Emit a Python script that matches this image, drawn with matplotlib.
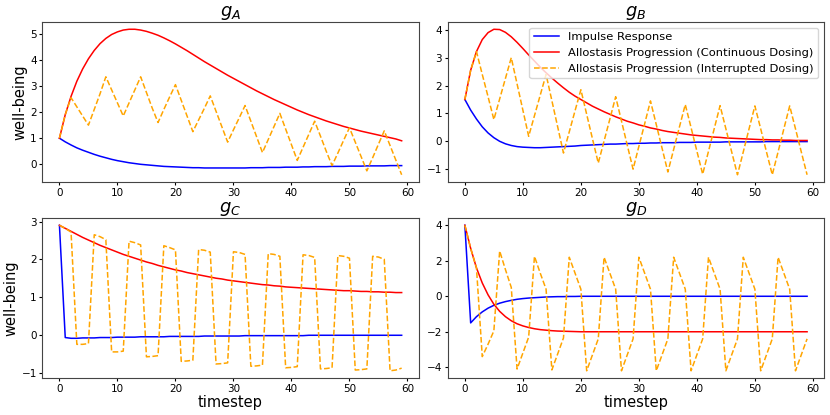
import numpy as np
import matplotlib
matplotlib.use("Agg")
import matplotlib.pyplot as plt

t = np.arange(60)

# g_A
impulse_a = [1.00, 0.86, 0.74, 0.63, 0.54, 0.46, 0.38, 0.31, 0.25, 0.19,
             0.14, 0.10, 0.06, 0.03, 0.00, -0.02, -0.04, -0.06, -0.08, -0.09,
             -0.10, -0.11, -0.12, -0.13, -0.13, -0.14, -0.14, -0.14, -0.14, -0.14,
             -0.14, -0.14, -0.14, -0.13, -0.13, -0.13, -0.12, -0.12, -0.12, -0.11,
             -0.11, -0.11, -0.10, -0.10, -0.09, -0.09, -0.09, -0.08, -0.08, -0.08,
             -0.07, -0.07, -0.07, -0.06, -0.06, -0.06, -0.06, -0.05, -0.05, -0.05]
cont_a = [1.00, 1.90, 2.60, 3.18, 3.65, 4.04, 4.36, 4.62, 4.82, 4.97,
          5.07, 5.14, 5.17, 5.17, 5.14, 5.09, 5.02, 4.94, 4.84, 4.73,
          4.61, 4.48, 4.35, 4.21, 4.07, 3.93, 3.80, 3.67, 3.54, 3.41,
          3.29, 3.17, 3.05, 2.93, 2.81, 2.70, 2.59, 2.48, 2.38, 2.28,
          2.18, 2.08, 1.99, 1.90, 1.82, 1.74, 1.66, 1.59, 1.52, 1.45,
          1.39, 1.33, 1.27, 1.22, 1.17, 1.12, 1.07, 1.02, 0.97, 0.90]
inter_a = [1.00, 1.90, 2.55, 2.20, 1.85, 1.50, 2.10, 2.70, 3.35, 2.85,
           2.35, 1.85, 2.35, 2.85, 3.35, 2.75, 2.15, 1.60, 2.10, 2.58,
           3.05, 2.45, 1.85, 1.25, 1.70, 2.15, 2.62, 2.03, 1.44, 0.85,
           1.32, 1.78, 2.25, 1.65, 1.05, 0.45, 0.95, 1.45, 1.95, 1.35,
           0.75, 0.15, 0.65, 1.15, 1.65, 1.08, 0.50, -0.05, 0.43, 0.92,
           1.40, 0.85, 0.30, -0.25, 0.25, 0.77, 1.28, 0.72, 0.16, -0.40]

# g_B
impulse_b = [1.50, 1.12, 0.80, 0.52, 0.30, 0.13, 0.00, -0.09, -0.15, -0.19,
             -0.21, -0.22, -0.23, -0.23, -0.22, -0.21, -0.20, -0.19, -0.18, -0.17,
             -0.15, -0.14, -0.13, -0.12, -0.11, -0.10, -0.10, -0.09, -0.08, -0.08,
             -0.07, -0.07, -0.06, -0.06, -0.05, -0.05, -0.05, -0.04, -0.04, -0.04,
             -0.03, -0.03, -0.03, -0.03, -0.03, -0.02, -0.02, -0.02, -0.02, -0.02,
             -0.02, -0.02, -0.01, -0.01, -0.01, -0.01, -0.01, -0.01, -0.01, -0.01]
cont_b = [1.50, 2.55, 3.22, 3.65, 3.90, 4.02, 4.01, 3.91, 3.75, 3.55,
          3.33, 3.10, 2.88, 2.66, 2.46, 2.27, 2.09, 1.92, 1.76, 1.62,
          1.50, 1.38, 1.26, 1.16, 1.06, 0.97, 0.88, 0.80, 0.72, 0.66,
          0.59, 0.54, 0.48, 0.44, 0.39, 0.35, 0.32, 0.29, 0.26, 0.23,
          0.21, 0.19, 0.17, 0.15, 0.14, 0.12, 0.11, 0.10, 0.09, 0.08,
          0.07, 0.06, 0.06, 0.05, 0.05, 0.04, 0.04, 0.03, 0.03, 0.03]
inter_b = [1.50, 2.55, 3.22, 2.40, 1.60, 0.78, 1.52, 2.26, 3.00, 2.06,
           1.12, 0.18, 0.92, 1.66, 2.40, 1.46, 0.52, -0.42, 0.34, 1.10,
           1.85, 0.97, 0.09, -0.78, 0.01, 0.80, 1.60, 0.73, -0.14, -1.00,
           -0.18, 0.63, 1.45, 0.60, -0.25, -1.10, -0.29, 0.52, 1.32, 0.49,
           -0.35, -1.18, -0.36, 0.46, 1.28, 0.45, -0.38, -1.20, -0.38, 0.45,
           1.27, 0.45, -0.38, -1.20, -0.38, 0.45, 1.27, 0.45, -0.38, -1.20]

# g_C
impulse_c = [2.90, -0.07, -0.09, -0.09, -0.08, -0.08, -0.08, -0.07, -0.07, -0.07,
             -0.06, -0.06, -0.06, -0.06, -0.05, -0.05, -0.05, -0.05, -0.05, -0.04,
             -0.04, -0.04, -0.04, -0.04, -0.04, -0.03, -0.03, -0.03, -0.03, -0.03,
             -0.03, -0.03, -0.02, -0.02, -0.02, -0.02, -0.02, -0.02, -0.02, -0.02,
             -0.02, -0.02, -0.02, -0.01, -0.01, -0.01, -0.01, -0.01, -0.01, -0.01,
             -0.01, -0.01, -0.01, -0.01, -0.01, -0.01, -0.01, -0.01, -0.01, -0.01]
cont_c = [2.90, 2.82, 2.74, 2.66, 2.58, 2.51, 2.44, 2.37, 2.31, 2.25,
          2.19, 2.13, 2.08, 2.03, 1.98, 1.93, 1.89, 1.84, 1.80, 1.76,
          1.72, 1.69, 1.65, 1.62, 1.59, 1.56, 1.53, 1.50, 1.48, 1.45,
          1.43, 1.41, 1.39, 1.37, 1.35, 1.33, 1.32, 1.30, 1.29, 1.27,
          1.26, 1.25, 1.24, 1.23, 1.22, 1.21, 1.20, 1.19, 1.18, 1.17,
          1.17, 1.16, 1.15, 1.15, 1.14, 1.14, 1.13, 1.13, 1.12, 1.12]
inter_c = [2.90, 2.82, 2.72, -0.25, -0.25, -0.23, 2.65, 2.60, 2.52, -0.45,
           -0.45, -0.43, 2.48, 2.44, 2.38, -0.58, -0.57, -0.55, 2.36, 2.31,
           2.25, -0.70, -0.69, -0.67, 2.26, 2.24, 2.19, -0.77, -0.76, -0.74,
           2.20, 2.18, 2.13, -0.83, -0.82, -0.80, 2.15, 2.13, 2.08, -0.87,
           -0.86, -0.84, 2.12, 2.10, 2.05, -0.90, -0.89, -0.87, 2.10, 2.08,
           2.03, -0.93, -0.92, -0.90, 2.08, 2.06, 2.00, -0.95, -0.93, -0.88]

# g_D
impulse_d = [4.00, -1.50, -1.15, -0.88, -0.67, -0.51, -0.39, -0.30, -0.23, -0.17,
             -0.13, -0.10, -0.08, -0.06, -0.04, -0.03, -0.02, -0.02, -0.01, -0.01,
             0.00, 0.00, 0.00, 0.00, 0.00, 0.00, 0.00, 0.00, 0.00, 0.00,
             0.00, 0.00, 0.00, 0.00, 0.00, 0.00, 0.00, 0.00, 0.00, 0.00,
             0.00, 0.00, 0.00, 0.00, 0.00, 0.00, 0.00, 0.00, 0.00, 0.00,
             0.00, 0.00, 0.00, 0.00, 0.00, 0.00, 0.00, 0.00, 0.00, 0.00]
cont_d = [4.00, 2.70, 1.60, 0.75, 0.08, -0.45, -0.85, -1.15, -1.38, -1.55,
          -1.67, -1.76, -1.83, -1.88, -1.91, -1.94, -1.96, -1.97, -1.98, -1.99,
          -2.00, -2.00, -2.00, -2.00, -2.00, -2.00, -2.00, -2.00, -2.00, -2.00,
          -2.00, -2.00, -2.00, -2.00, -2.00, -2.00, -2.00, -2.00, -2.00, -2.00,
          -2.00, -2.00, -2.00, -2.00, -2.00, -2.00, -2.00, -2.00, -2.00, -2.00,
          -2.00, -2.00, -2.00, -2.00, -2.00, -2.00, -2.00, -2.00, -2.00, -2.00]
inter_d = [4.00, 2.70, 1.60, -3.40, -2.70, -1.95, 2.55, 1.50, 0.50, -4.10,
           -3.20, -2.30, 2.25, 1.30, 0.40, -4.15, -3.25, -2.35, 2.20, 1.30,
           0.40, -4.20, -3.30, -2.40, 2.20, 1.30, 0.40, -4.20, -3.30, -2.40,
           2.20, 1.30, 0.40, -4.20, -3.30, -2.40, 2.20, 1.30, 0.40, -4.20,
           -3.30, -2.40, 2.20, 1.30, 0.40, -4.20, -3.30, -2.40, 2.20, 1.30,
           0.40, -4.20, -3.30, -2.40, 2.20, 1.30, 0.40, -4.20, -3.30, -2.40]

titles = ["$g_A$", "$g_B$", "$g_C$", "$g_D$"]
impulse = [impulse_a, impulse_b, impulse_c, impulse_d]
cont = [cont_a, cont_b, cont_c, cont_d]
inter = [inter_a, inter_b, inter_c, inter_d]

fig, axes = plt.subplots(2, 2, figsize=(8.3, 4.15), dpi=100)
fig.subplots_adjust(left=0.051, right=0.993, top=0.947, bottom=0.089,
                    wspace=0.077, hspace=0.225)

for i, ax in enumerate(axes.flat):
    ax.plot(t, impulse[i], color="blue", lw=1.1, label="Impulse Response")
    ax.plot(t, cont[i], color="red", lw=1.1,
            label="Allostasis Progression (Continuous Dosing)")
    ax.plot(t, inter[i], color="orange", lw=1.1, ls="--",
            label="Allostasis Progression (Interrupted Dosing)")
    ax.set_title(titles[i], fontsize=13, pad=2)
    ax.set_xticks([0, 10, 20, 30, 40, 50, 60])
    ax.tick_params(labelsize=7.5, length=2.5, pad=1.5)
    for sp in ax.spines.values():
        sp.set_edgecolor("#444444")
    if i % 2 == 0:
        ax.set_ylabel("well-being", fontsize=10.5, labelpad=2)
    if i >= 2:
        ax.set_xlabel("timestep", fontsize=10.5, labelpad=1)

axes[0, 1].legend(loc="upper right", fontsize=8.25, handlelength=2.2)

fig.savefig("out.png", dpi=100)
